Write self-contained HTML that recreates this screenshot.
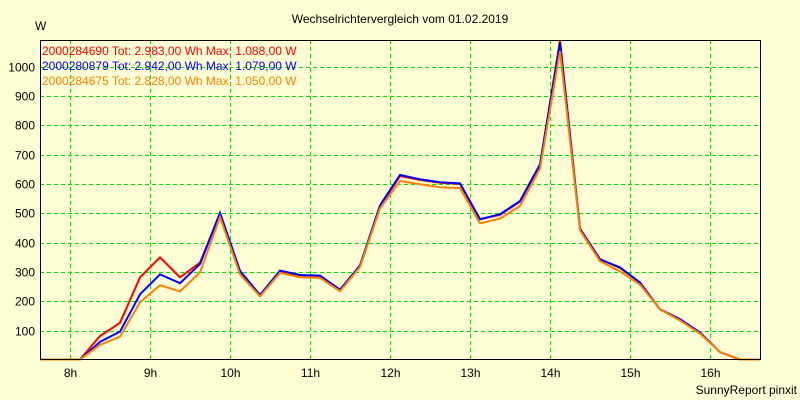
<!DOCTYPE html>
<html><head><meta charset="utf-8"><style>
body{margin:0;background:#ffffd5;}
svg{display:block;font-family:"Liberation Sans",sans-serif;font-size:12px;}
</style></head><body>
<svg id="chart" width="800" height="400" xmlns="http://www.w3.org/2000/svg">
<rect x="0" y="0" width="800" height="400" fill="#ffffd5"/>
<text x="400" y="23" text-anchor="middle" fill="#000">Wechselrichtervergleich vom 01.02.2019</text>
<text x="35" y="30" fill="#000">W</text>
<text x="797" y="394" text-anchor="end" fill="#000">SunnyReport pinxit</text>
<g id="grid"></g>
<g id="series"></g>
<g id="legend"></g>
<rect x="40.5" y="40.5" width="720" height="319" fill="none" stroke="#000" stroke-width="1"/>
</svg>
<script>
const yTicks=[100,200,300,400,500,600,700,800,900,1000];
const xTickLabels=["8h","9h","10h","11h","12h","13h","14h","15h","16h"];
const seriesNames=["2000284690","2000280879","2000284675"];
const seriesTot=["2.983,00","2.942,00","2.828,00"];
const seriesMax=["1.088,00","1.079,00","1.050,00"];
const seriesColors=["#ff0000","#0000ff","#ff8000"];
const s1=[0,0,0,80,125,280,348,280,330,497,300,218,300,287,284,238,320,522,625,612,602,598,478,493,538,662,1088,446,342,312,262,171,137,92,25,0,0];
const s2=[0,0,0,60,95,222,290,260,325,500,302,220,303,288,286,238,320,525,629,614,604,600,478,495,540,665,1079,444,341,314,262,171,137,92,25,0,0];
const s3=[0,0,0,50,78,195,253,232,297,485,290,215,295,280,278,233,315,515,608,597,587,584,464,480,523,650,1050,440,335,300,255,171,133,88,25,0,0];
const ns="http://www.w3.org/2000/svg";
const X0=40,X1=760,Y0=360,YPER=0.2935;
const yScale=v=>Y0-v*YPER;
const xIdx=i=>X0+i*(X1-X0)/(s1.length-1);
const xHour=h=>70+h*80;
const grid=document.getElementById('grid');
yTicks.forEach(t=>{
 const y=Math.round(yScale(t))+0.5;
 const l=document.createElementNS(ns,'line');
 
 
 l.setAttribute('x1',X0);l.setAttribute('x2',X1);l.setAttribute('y1',y);l.setAttribute('y2',y);
 l.setAttribute('stroke','#00e000');l.setAttribute('stroke-dasharray','4,3');
 grid.appendChild(l);
 const tx=document.createElementNS(ns,'text');
 
 
 tx.setAttribute('x',35);tx.setAttribute('y',y+4);tx.setAttribute('text-anchor','end');
 tx.textContent=t;grid.appendChild(tx);
});
xTickLabels.forEach((lab,h)=>{
 const x=xHour(h)+0.5;
 const l=document.createElementNS(ns,'line');
 
 
 l.setAttribute('x1',x);l.setAttribute('x2',x);l.setAttribute('y1',40);l.setAttribute('y2',Y0);
 l.setAttribute('stroke','#00e000');l.setAttribute('stroke-dasharray','4,3');
 grid.appendChild(l);
 const tx=document.createElementNS(ns,'text');
 
 
 tx.setAttribute('x',x);tx.setAttribute('y',377);tx.setAttribute('text-anchor','middle');
 tx.textContent=lab;grid.appendChild(tx);
});
const sg=document.getElementById('series');
[s1,s2,s3].forEach((s,k)=>{
 const p=document.createElementNS(ns,'polyline');
 
 
 p.setAttribute('points',s.map((v,i)=>xIdx(i)+','+(yScale(v)-0.5)).join(' '));
 p.setAttribute('fill','none');p.setAttribute('stroke',seriesColors[k]);p.setAttribute('stroke-width','2');
 sg.appendChild(p);
});
const lg=document.getElementById('legend');
seriesNames.forEach((n,k)=>{
 const tx=document.createElementNS(ns,'text');
 
 
 tx.setAttribute('x',42);tx.setAttribute('y',55+k*15);tx.setAttribute('fill',seriesColors[k]);
 tx.textContent=n+' Tot: '+seriesTot[k]+' Wh Max: '+seriesMax[k]+' W';
 lg.appendChild(tx);
});
</script>
</body></html>
